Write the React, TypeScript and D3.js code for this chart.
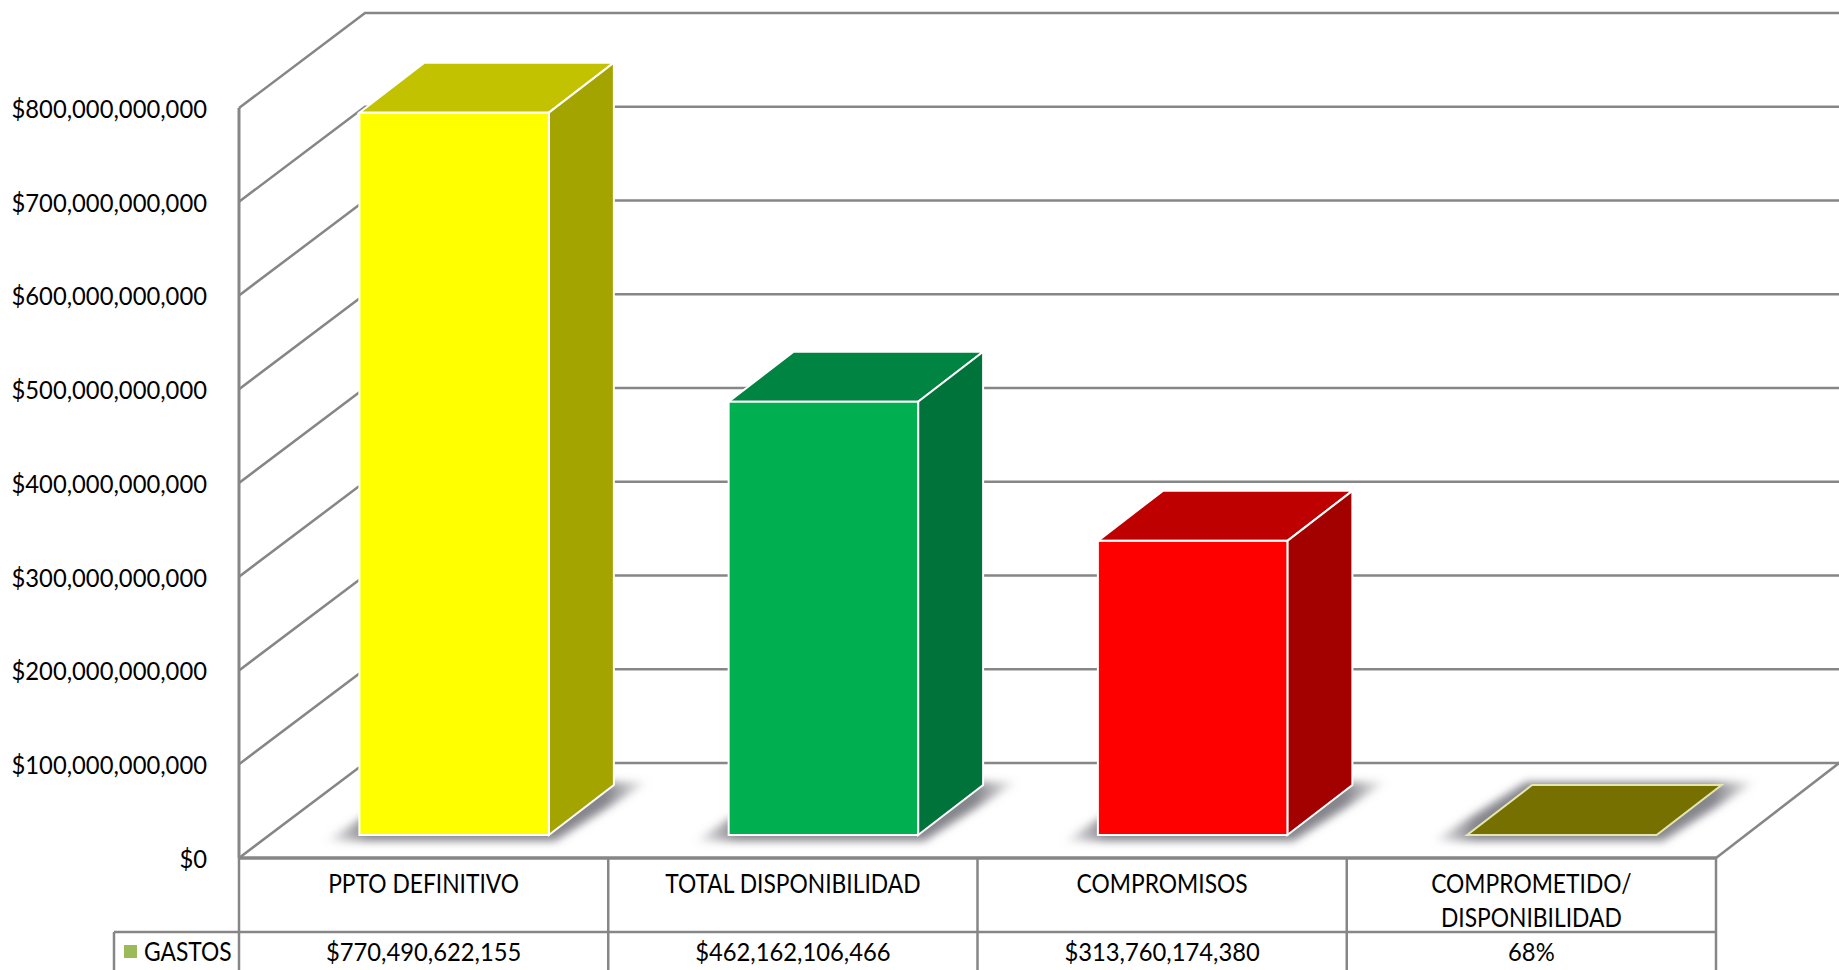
import React from "react";
import * as d3 from "d3";

const categories = ["PPTO DEFINITIVO", "TOTAL DISPONIBILIDAD", "COMPROMISOS", "COMPROMETIDO/\nDISPONIBILIDAD"];
const values = [770490622155, 462162106466, 313760174380, 0.68];
const tableLabels = ["$770,490,622,155", "$462,162,106,466", "$313,760,174,380", "68%"];
const seriesName = "GASTOS";
const yTicks = [0, 100e9, 200e9, 300e9, 400e9, 500e9, 600e9, 700e9, 800e9];
const frontColors = ["#FFFF00", "#00B050", "#FF0000", "#9E9600"];
const topColors = ["#C2C200", "#008441", "#BF0000", "#767000"];
const sideColors = ["#A4A400", "#00733A", "#A30000", "#6A6500"];

const W = 1839, H = 970;
const GRID = "#868686";
const FONT = "Lato, Carlito, Calibri, sans-serif";
const FS = 26;
const SX_WORD = 0.878;
const SX_NUM = 0.915;

const y = d3.scaleLinear().domain([0, 800e9]).range([858, 108]);
const x = d3.scaleBand<number>().domain(d3.range(categories.length)).range([239, 1716]).padding(0);
const fmt = (v: number) => "$" + d3.format(",")(v);
const wall = { dx: 126, dy: 95 };
const bar = { w: 189.5, dx: 65, dy: 50, lift: 23, shift: 30.5 };

const pts = (a: [number, number][]) => a.map((p) => p.join(",")).join(" ");

function T({ x: tx, y: ty, anchor = "middle", sx = SX_WORD, children }: any) {
  return (
    <text transform={`translate(${tx},${ty}) scale(${sx},1)`} textAnchor={anchor} dominantBaseline="central"
      fontFamily={FONT} fontSize={FS} fill="#000">{children}</text>
  );
}

export default function App() {
  const right = x.range()[1];
  const x0 = x.range()[0];
  const floorBack = y(0) - wall.dy;
  const tableRow = 932;
  return (
    <svg width={W} height={H} viewBox={`0 0 ${W} ${H}`}
      style={{ position: "absolute", left: 0, top: 0, display: "block", background: "#fff" }}>
      <defs>
        <filter id="sh" x="-30%" y="-80%" width="160%" height="260%">
          <feGaussianBlur stdDeviation="4.5" />
        </filter>
        <linearGradient id="shg" x1="0" x2="1" y1="0" y2="0">
          <stop offset="0" stopColor="#85858c" stopOpacity="0.05" />
          <stop offset="0.13" stopColor="#85858c" stopOpacity="1" />
          <stop offset="0.87" stopColor="#85858c" stopOpacity="1" />
          <stop offset="1" stopColor="#85858c" stopOpacity="0.05" />
        </linearGradient>
      </defs>
      {/* back wall gridlines */}
      {yTicks.slice(1).map((t) => (
        <polyline key={t} fill="none" stroke={GRID} strokeWidth={2.5}
          points={pts([[x0, y(t)], [x0 + wall.dx, y(t) - wall.dy], [W + 5, y(t) - wall.dy]])} />
      ))}
      {/* floor */}
      <polyline fill="none" stroke={GRID} strokeWidth={2.5}
        points={pts([[x0, y(0)], [x0 + wall.dx, floorBack], [W + 5, floorBack]])} />
      <line x1={right} y1={y(0)} x2={W + 4} y2={floorBack - 3} stroke={GRID} strokeWidth={2.5} />
      <line x1={x0} y1={y(0)} x2={x0} y2={y(800e9)} stroke={GRID} strokeWidth={3} />

      {/* bars */}
      {values.map((v, i) => {
        const l = x(i)! + (x.bandwidth() - bar.w) / 2 + bar.shift;
        const r = l + bar.w;
        const b = y(0) - bar.lift;
        const t = y(v) - bar.lift;
        const flat = b - t < 1;
        return (
          <g key={i}>
            <polygon filter="url(#sh)" fill="url(#shg)"
              points={pts([[l - 34, b + 6], [r + 6, b + 6], [r + bar.dx + 34, b - bar.dy - 3], [l + bar.dx - 6, b - bar.dy - 3]])} />
            <polygon fill={topColors[i]} stroke={flat ? "#E6E6B0" : "#fff"} strokeWidth={2}
              points={pts([[l, t], [r, t], [r + bar.dx, t - bar.dy], [l + bar.dx, t - bar.dy]])} />
            {!flat && (
              <>
                <polygon fill={sideColors[i]} stroke="#fff" strokeWidth={2}
                  points={pts([[r, t], [r + bar.dx, t - bar.dy], [r + bar.dx, b - bar.dy], [r, b]])} />
                <rect x={l} y={t} width={bar.w} height={b - t} fill={frontColors[i]} stroke="#fff" strokeWidth={2} />
              </>
            )}
          </g>
        );
      })}

      {/* y axis labels */}
      {yTicks.map((t) => (
        <T key={t} x={207} y={y(t) - 0.5} anchor="end" sx={SX_NUM}>{fmt(t)}</T>
      ))}

      {/* data table */}
      <line x1={x0} x2={right} y1={y(0)} y2={y(0)} stroke={GRID} strokeWidth={3.5} />
      <line x1={114} x2={right} y1={tableRow} y2={tableRow} stroke={GRID} strokeWidth={2.5} />
      <line x1={114} x2={114} y1={tableRow} y2={H} stroke={GRID} strokeWidth={2.5} />
      {d3.range(categories.length + 1).map((i) => {
        const vx = x0 + i * x.bandwidth();
        return <line key={i} x1={vx} x2={vx} y1={y(0)} y2={H} stroke={GRID} strokeWidth={2.5} />;
      })}
      {categories.map((c, i) => {
        const cx = x(i)! + x.bandwidth() / 2;
        return (
          <g key={c}>
            {c.split("\n").map((ln, k) => (
              <T key={k} x={cx} y={883 + k * 34}>{ln}</T>
            ))}
            <T x={cx} y={951} sx={SX_NUM}>{tableLabels[i]}</T>
          </g>
        );
      })}
      <rect x={124} y={945} width={13} height={13} fill="#9BBB59" />
      <T x={144} y={951} anchor="start">{seriesName}</T>
    </svg>
  );
}
